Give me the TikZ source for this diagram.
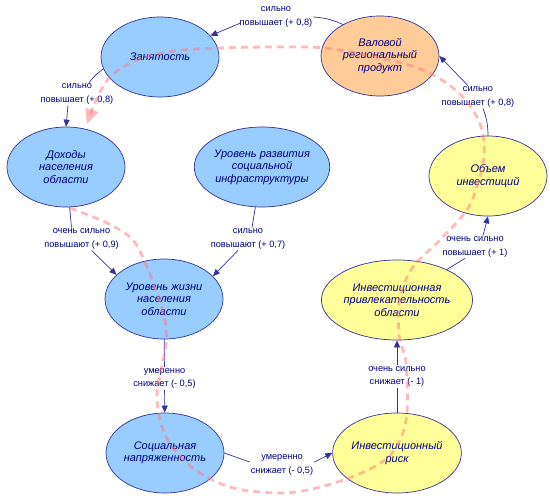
\documentclass[tikz,border=0pt]{standalone}
\usepackage{fontspec}
\setmainfont{Liberation Sans}
\usetikzlibrary{shapes.geometric,arrows.meta}
\definecolor{fblue}{HTML}{99CCFF}
\definecolor{forange}{HTML}{FFCC99}
\definecolor{fyellow}{HTML}{FFFF99}
\definecolor{edgec}{HTML}{333399}
\definecolor{txtc}{HTML}{000080}
\definecolor{loopc}{HTML}{FF7878}
\begin{document}
\begin{tikzpicture}[x=1pt,y=-1pt,
  factor/.style={ellipse, draw=edgec, line width=0.7pt, minimum width=118pt, minimum height=80pt,
    inner sep=0pt, align=center, text=txtc, font=\fontsize{11}{12.5}\selectfont\itshape},
  fb/.style={factor, fill=fblue},
  fo/.style={factor, fill=forange},
  fy/.style={factor, fill=fyellow},
  lab/.style={inner sep=1pt, align=center, text=txtc, font=\fontsize{9.2}{13.5}\selectfont},
  link/.style={draw=edgec, line width=0.7pt},
  arr/.style={link, -{Triangle[length=7pt,width=6pt]}},
  loopline/.style={draw=loopc, fill=none, opacity=0.5, line width=2.8pt, dash pattern=on 7pt off 5pt,
    -{Triangle[length=15pt,width=14pt,line width'=0pt,fill=loopc]}}
]
\fill[white] (0,0) rectangle (550,504);
\useasboundingbox (0,0) rectangle (550,504);

% factors
\node[fb] (zan) at (160,57) {Занятость};
\node[fo] (val) at (380,56) {Валовой\\региональный\\продукт};
\node[fb] (doh) at (66,167) {Доходы\\населения\\области};
\node[fb] (urr) at (262,167) {Уровень развития\\социальной\\инфраструктуры};
\node[fy] (obi) at (488,176) {Объем\\инвестиций};
\node[fb] (urz) at (164,299) {Уровень жизни\\населения\\области};
\node[fy] (ipr) at (397,300) {Инвестиционная\\привлекательность\\области};
\node[fb] (soc) at (165,453) {Социальная\\напряженность};
\node[fy] (ir) at (397,453) {Инвестиционный\\риск};

% labels
\node[lab] (l1) at (276,17) {сильно\\повышает (+ 0,8)};
\node[lab] (l2) at (77,94) {сильно\\повышает (+ 0,8)};
\node[lab] (l3) at (478,97) {сильно\\повышает (+ 0,8)};
\node[lab] (l4) at (81.5,239) {очень сильно\\повышают (+ 0,9)};
\node[lab] (l5) at (248,239) {сильно\\повышают (+ 0,7)};
\node[lab] (l6) at (475,247) {очень сильно\\повышает (+ 1)};
\node[lab] (l7) at (164.5,378.5) {умеренно\\снижает (- 0,5)};
\node[lab] (l8) at (397,376.5) {очень сильно\\снижает (- 1)};
\node[lab] (l9) at (282,465) {умеренно\\снижает (- 0,5)};

% connectors
\draw[link] (val) to[bend right=10] (l1.east);
\draw[arr] ([shift={(2,6)}]l1.west) -- (zan);
\draw[link] (zan) to[bend right=8] ([xshift=12pt]l2.north);
\draw[arr] ([xshift=-9pt]l2.south) -- (doh.north);
\draw[link] (doh) -- ([xshift=-10pt]l4.north);
\draw[arr] ([xshift=10pt]l4.south) -- (urz.153);
\draw[link] (urr) -- ([xshift=4pt]l5.north);
\draw[arr] ([xshift=-10pt]l5.south) -- (urz.25);
\draw[link] (urz) -- (l7);
\draw[arr] (l7) -- (soc);
\draw[link] (soc.east) -- ([shift={(0,-3)}]l9.west);
\draw[arr] ([shift={(0,-3)}]l9.east) -- (ir.west);
\draw[link] (ir) -- (l8);
\draw[arr] (l8) -- (ipr);
\draw[link] (ipr) -- ([xshift=-10pt]l6.south);
\draw[arr] ([xshift=8pt]l6.north) -- (obi.south);
\draw[link] (obi.north) to[bend right=10] ([xshift=5pt]l3.south);
\draw[arr] ([xshift=-10pt]l3.north) -- (val.east);

% feedback loop
\draw[loopline] plot[smooth, tension=0.55] coordinates {
 (70,208) (107,223) (133,240) (147,267) (157,293) (165,320) (166,345) (160,375) (157,400)
 (163,430) (177,453) (200,473) (233,488) (275,493) (308,490) (352,477) (385,460) (400,440)
 (407,413) (406,363) (399,335) (400,297) (413,267) (440,240) (467,210) (478,183) (484,157)
 (483,135) (477,117) (463,97) (442,80) (415,67) (375,57) (325,48) (275,47) (219,48)
 (173,51) (140,59) (113,74) (98,96) (87,124)};
\end{tikzpicture}
\end{document}
